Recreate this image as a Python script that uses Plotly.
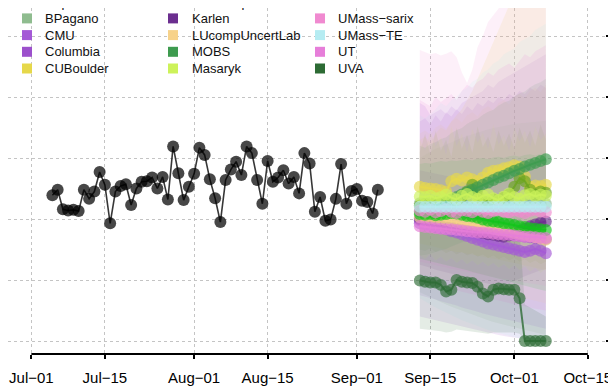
import plotly.graph_objects as go
from datetime import date, timedelta

# ---------------- data ----------------
REPORT_START = date(2021, 7, 5)
FORECAST_START = date(2021, 9, 13)
N_FC = 25

reported = [239, 248, 216, 214, 215, 213, 248, 233, 245, 277, 256, 193, 245, 254, 257, 223, 250, 261, 262, 268,
            250, 269, 232, 319, 275, 231, 253, 274, 317, 305, 265, 234, 195, 264, 281, 294, 272, 319, 308, 264,
            225, 295, 261, 268, 280, 258, 269, 242, 308, 291, 212, 236, 197, 199, 233, 290, 225, 246, 249, 230,
            228, 209, 248]

model_names = ["BPagano", "CMU", "Columbia", "CUBoulder", "GT−DeepCOVID", "Karlen", "LUcompUncertLab",
               "MOBS", "Masaryk", "PSI−DICE", "UMass−sarix", "UMass−TE", "UT", "UVA"]
model_colors = ["#8fbc8f", "#a459d6", "#9c50cc", "#e6d84a", "#6aa51e", "#6b2e8f", "#f7d28a",
                "#3e9b4f", "#cdf25a", "#12c41a", "#f08ad0", "#b5ecf2", "#e67ed9", "#2d6b34"]

pt_BPagano = [226, 227, 225, 226, 228, 226, 225, 227, 226, 225, 227, 226, 228, 226, 225, 227, 226, 225, 226, 227, 225, 226, 228, 226, 225]
lo_BPagano = [80, 76, 72, 68, 64, 60, 56, 52, 49, 46, 43, 40, 37, 34, 31, 28, 26, 24, 22, 20, 18, 16, 14, 12, 10]
hi_BPagano = [300, 305, 310, 315, 318, 322, 326, 330, 333, 336, 339, 342, 345, 347, 349, 351, 353, 355, 356, 357, 358, 359, 360, 360, 361]

pt_CMU = [193, 191, 189, 187, 185, 183, 180, 178, 175, 172, 169, 166, 163, 160, 158, 156, 154, 152, 150, 148, 146, 148, 151, 148, 144]
lo_CMU = [75, 72, 70, 68, 65, 62, 60, 58, 55, 52, 50, 48, 45, 43, 40, 38, 36, 34, 32, 30, 28, 26, 24, 22, 20]
hi_CMU = [390, 385, 370, 375, 380, 372, 385, 378, 390, 395, 400, 405, 410, 420, 415, 425, 430, 435, 440, 445, 450, 455, 460, 465, 470]

pt_Columbia = [198, 197, 195, 194, 192, 191, 189, 188, 186, 185, 183, 182, 180, 179, 178, 176, 175, 174, 173, 172, 171, 170, 169, 168, 167]
lo_Columbia = [40, 38, 36, 34, 32, 30, 28, 26, 24, 22, 20, 18, 16, 14, 12, 10, 8, 6, 5, 4, 3, 2, 1, 0, 0]
hi_Columbia = [360, 365, 355, 370, 360, 375, 368, 380, 372, 385, 378, 390, 385, 395, 390, 400, 395, 405, 400, 410, 405, 415, 410, 420, 415]

pt_CUBoulder = [253, 251, 250, 249, 247, 245, 262, 266, 263, 268, 265, 262, 268, 276, 279, 280, 283, 285, 288, 286, 270, 253, 255, 254, 256]
lo_CUBoulder = [160, 158, 156, 154, 152, 150, 148, 146, 145, 143, 141, 140, 138, 136, 135, 133, 131, 130, 128, 126, 124, 122, 120, 118, 116]
hi_CUBoulder = [330, 335, 325, 340, 350, 345, 360, 370, 380, 395, 410, 430, 450, 470, 490, 510, 530, 550, 575, 600, 590, 580, 570, 560, 555]

pt_GT = [222, 225, 224, 228, 226, 230, 232, 228, 236, 245, 256, 240, 230, 226, 232, 228, 235, 240, 253, 267, 262, 248, 240, 245, 243]
lo_GT = [150, 148, 152, 146, 150, 144, 148, 142, 146, 140, 144, 138, 142, 136, 140, 134, 138, 132, 136, 130, 134, 128, 132, 126, 130]
hi_GT = [310, 340, 305, 345, 312, 330, 302, 350, 315, 338, 308, 352, 318, 335, 310, 345, 320, 340, 315, 350, 325, 345, 320, 355, 330]

pt_Karlen = [200, 198, 196, 194, 192, 190, 188, 186, 185, 183, 181, 179, 177, 175, 174, 172, 171, 173, 176, 180, 184, 188, 191, 194, 196]
lo_Karlen = [125, 122, 120, 117, 115, 112, 110, 108, 105, 103, 100, 98, 96, 94, 92, 90, 92, 95, 98, 102, 106, 110, 113, 116, 118]
hi_Karlen = [280, 278, 276, 275, 273, 271, 270, 268, 266, 265, 263, 262, 260, 259, 258, 260, 263, 266, 270, 275, 280, 285, 290, 294, 298]

pt_LUcomp = [203, 202, 201, 200, 199, 198, 196, 195, 193, 192, 190, 189, 187, 186, 184, 182, 181, 179, 177, 176, 174, 172, 170, 168, 166]
lo_LUcomp = [110, 108, 106, 104, 102, 100, 98, 96, 94, 92, 90, 88, 86, 84, 82, 80, 78, 76, 74, 72, 70, 68, 66, 64, 62]
hi_LUcomp = [340, 345, 338, 350, 355, 348, 360, 365, 358, 370, 375, 368, 380, 385, 378, 390, 395, 388, 400, 405, 398, 410, 415, 408, 420]

pt_MOBS = [212, 213, 215, 218, 222, 226, 231, 236, 240, 244, 248, 252, 256, 260, 264, 268, 271, 275, 279, 282, 286, 289, 292, 295, 298]
lo_MOBS = [140, 141, 143, 145, 148, 151, 155, 158, 162, 165, 169, 172, 176, 179, 183, 186, 190, 193, 196, 199, 202, 205, 208, 211, 214]
hi_MOBS = [320, 317, 323, 326, 331, 334, 341, 346, 349, 356, 361, 364, 371, 376, 379, 386, 391, 394, 401, 406, 409, 416, 421, 424, 430]

pt_Masaryk = [237, 236, 238, 234, 236, 240, 235, 232, 238, 241, 236, 233, 238, 240, 234, 231, 237, 242, 236, 233, 239, 241, 237, 240, 238]
lo_Masaryk = [140, 135, 142, 132, 138, 130, 136, 128, 134, 126, 132, 124, 130, 122, 128, 120, 126, 118, 124, 116, 122, 114, 120, 112, 118]
hi_Masaryk = [330, 312, 345, 318, 335, 305, 352, 320, 340, 310, 348, 325, 342, 315, 355, 322, 338, 312, 350, 328, 345, 318, 352, 330, 340]

pt_PSI = [208, 207, 208, 206, 207, 208, 210, 209, 207, 205, 204, 202, 199, 197, 196, 195, 193, 192, 190, 188, 187, 185, 184, 183, 182]
lo_PSI = [135, 133, 131, 129, 127, 125, 122, 120, 118, 116, 113, 111, 109, 107, 104, 102, 100, 98, 95, 93, 91, 89, 86, 84, 82]
hi_PSI = [290, 292, 291, 293, 295, 294, 296, 295, 297, 298, 296, 299, 300, 298, 301, 302, 300, 303, 304, 302, 305, 306, 304, 307, 308]

pt_sarix = [214, 212, 215, 211, 213, 216, 212, 210, 214, 213, 211, 215, 212, 210, 213, 216, 212, 211, 214, 212, 210, 213, 215, 212, 211]
lo_sarix = [130, 128, 126, 125, 122, 120, 118, 116, 115, 113, 111, 110, 108, 106, 105, 103, 102, 100, 99, 97, 96, 95, 93, 92, 90]
hi_sarix = [477, 474, 470, 472, 468, 471, 475, 465, 440, 423, 445, 482, 500, 523, 535, 545, 560, 575, 585, 590, 600, 605, 610, 612, 615]

pt_TE = [220, 220, 220, 220, 220, 220, 220, 220, 220, 220, 220, 220, 220, 220, 220, 220, 220, 220, 220, 220, 220, 220, 220, 220, 220]
lo_TE = [70, 65, 60, 55, 50, 46, 42, 38, 34, 30, 27, 24, 21, 18, 15, 12, 10, 8, 6, 4, 2, 0, 0, 0, 0]
hi_TE = [370, 365, 372, 380, 390, 385, 395, 400, 410, 415, 425, 430, 440, 445, 455, 460, 470, 475, 480, 490, 495, 500, 510, 515, 520]

pt_UT = [188, 187, 186, 185, 184, 183, 183, 182, 181, 180, 179, 178, 178, 177, 176, 175, 174, 174, 173, 172, 171, 171, 170, 169, 169]
lo_UT = [100, 98, 95, 92, 90, 88, 85, 83, 80, 78, 76, 74, 72, 70, 68, 66, 64, 62, 60, 58, 56, 55, 53, 51, 50]
hi_UT = [395, 390, 385, 400, 392, 398, 405, 395, 410, 420, 415, 425, 430, 440, 435, 445, 450, 455, 448, 460, 470, 465, 475, 480, 485]

pt_UVA = [99, 97, 96, 96, 92, 81, 84, 100, 97, 96, 95, 89, 78, 73, 84, 86, 85, 84, 84, 70, 0, 0, 0, 0, 0]
lo_UVA = [20, 19, 18, 17, 16, 14, 15, 19, 18, 17, 16, 15, 13, 12, 14, 15, 14, 14, 14, 12, 0, 0, 0, 0, 0]
hi_UVA = [200, 198, 196, 195, 192, 185, 186, 200, 198, 196, 195, 190, 182, 178, 186, 188, 187, 186, 186, 178, 60, 55, 50, 45, 40]

x_tick_dates = ["2021-07-01", "2021-07-15", "2021-08-01", "2021-08-15",
                "2021-09-01", "2021-09-15", "2021-10-01", "2021-10-15"]
y_tick_vals = [0, 100, 200, 300, 400, 500]

# ---------------- build ----------------
points = [pt_BPagano, pt_CMU, pt_Columbia, pt_CUBoulder, pt_GT, pt_Karlen, pt_LUcomp,
          pt_MOBS, pt_Masaryk, pt_PSI, pt_sarix, pt_TE, pt_UT, pt_UVA]
lows = [lo_BPagano, lo_CMU, lo_Columbia, lo_CUBoulder, lo_GT, lo_Karlen, lo_LUcomp,
        lo_MOBS, lo_Masaryk, lo_PSI, lo_sarix, lo_TE, lo_UT, lo_UVA]
highs = [hi_BPagano, hi_CMU, hi_Columbia, hi_CUBoulder, hi_GT, hi_Karlen, hi_LUcomp,
         hi_MOBS, hi_Masaryk, hi_PSI, hi_sarix, hi_TE, hi_UT, hi_UVA]

rep_dates = [REPORT_START + timedelta(days=i) for i in range(len(reported))]
fc_dates = [FORECAST_START + timedelta(days=i) for i in range(N_FC)]


def rgba(hexcol, a):
    h = hexcol.lstrip("#")
    return "rgba(%d,%d,%d,%s)" % (int(h[0:2], 16), int(h[2:4], 16), int(h[4:6], 16), a)


FONT = "Liberation Sans, Arial, Helvetica, sans-serif"
fig = go.Figure()

# prediction bands
for name, col, lo, hi in zip(model_names, model_colors, lows, highs):
    fig.add_trace(go.Scatter(
        x=fc_dates + fc_dates[::-1], y=hi + lo[::-1],
        fill="toself", fillcolor=rgba(col, 0.13), line=dict(width=0),
        mode="lines", hoverinfo="skip", showlegend=False))

# reported
fig.add_trace(go.Scatter(
    x=rep_dates, y=reported, mode="lines+markers", name="Reported",
    line=dict(color="rgba(20,20,20,0.85)", width=1.6),
    marker=dict(color="rgba(0,0,0,0.72)", size=12, line=dict(width=0)),
    showlegend=False))

# point forecasts
for name, col, pt in zip(model_names, model_colors, points):
    fig.add_trace(go.Scatter(
        x=fc_dates, y=pt, mode="lines+markers", name=name,
        line=dict(color=rgba(col, 0.8), width=2),
        marker=dict(color=rgba(col, 0.65), size=12, line=dict(width=0)),
        showlegend=False))

# ---------------- layout ----------------
# The page body adds an 8px offset, so the figure fills the window from (8, 8).
OFF = 8
W, H = 616 - OFF, 392 - OFF
ML, MR, MT, MB = 0, 5, 0, 38
PW, PH = W - ML - MR, H - MT - MB


def px2x(px):
    """window pixel x -> paper x"""
    return (px - OFF - ML) / PW


def px2y(py):
    """window pixel y -> paper y"""
    return (H - MB - (py - OFF)) / PH


shapes = []
annotations = []
# manual legend (column-major, 5 rows x 3 columns)
leg_names = ["Reported"] + model_names
leg_colors = ["#000000"] + model_colors
col_sq_x = [22, 168, 315]
col_tx_x = [44, 191, 337]
row_y = [2.0, 18.4, 35.1, 51.8, 68.5]
for i, (nm, c) in enumerate(zip(leg_names, leg_colors)):
    ci, ri = i // 5, i % 5
    cy = row_y[ri]
    shapes.append(dict(type="rect", xref="paper", yref="paper",
                       x0=px2x(col_sq_x[ci]), x1=px2x(col_sq_x[ci] + 10),
                       y0=px2y(cy + 5), y1=px2y(cy - 5),
                       fillcolor=c, line=dict(width=0), layer="above"))
    annotations.append(dict(text=nm, xref="paper", yref="paper",
                            x=px2x(col_tx_x[ci] - 1), y=px2y(cy),
                            xanchor="left", yanchor="middle", showarrow=False,
                            font=dict(size=13, color="#111111", family=FONT)))

# x axis line (Jul-01 .. Oct-15)
shapes.append(dict(type="line", xref="x", yref="paper",
                   x0=x_tick_dates[0], x1=x_tick_dates[-1], y0=0, y1=0,
                   line=dict(color="black", width=2), layer="above"))
# right axis line (from the 0 tick upward)
shapes.append(dict(type="line", xref="paper", yref="paper",
                   x0=px2x(610.5), x1=px2x(610.5), y0=px2y(341), y1=1.0,
                   line=dict(color="black", width=2), layer="above"))

# y range so that value 0 sits at window y=341 and 100 units = 61 px
y_bottom = (341 - 354) / 0.61
y_top = (341 - OFF) / 0.61

fig.update_layout(
    width=W, height=H,
    margin=dict(l=ML, r=MR, t=MT, b=MB),
    paper_bgcolor="white", plot_bgcolor="white",
    showlegend=False,
    shapes=shapes, annotations=annotations,
    font=dict(family=FONT, color="black"),
    xaxis=dict(type="date",
               range=["2021-06-26 13:00", "2021-10-19 10:00"],
               tickvals=x_tick_dates, tickformat="%b−%d",
               ticks="outside", ticklen=4, tickwidth=2, tickcolor="black",
               tickfont=dict(size=15, family=FONT, color="black"),
               ticklabelstandoff=6,
               showgrid=True, gridcolor="#c4c4c4", griddash="dot", gridwidth=1,
               showline=False, zeroline=False),
    yaxis=dict(range=[y_bottom, y_top], side="right",
               tickvals=y_tick_vals, showticklabels=False,
               ticks="inside", ticklen=5, tickwidth=2, tickcolor="black",
               showgrid=True, gridcolor="#c4c4c4", griddash="dot", gridwidth=1,
               showline=False, zeroline=False),
)

fig.write_html("out.html")
